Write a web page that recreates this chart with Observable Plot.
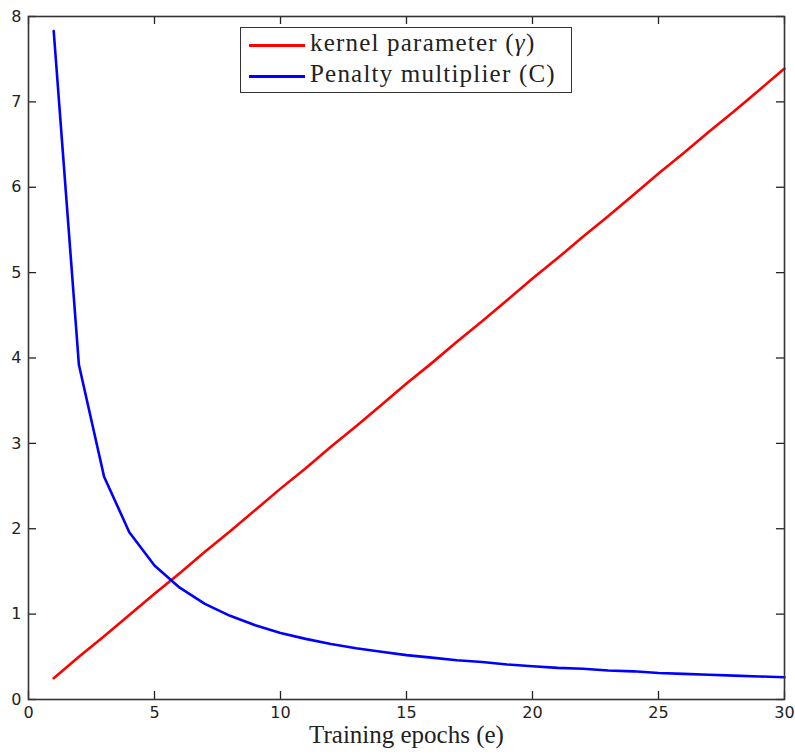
<!DOCTYPE html>
<html>
<head>
<meta charset="utf-8">
<script src="https://cdn.jsdelivr.net/npm/d3@7"></script>
<script src="https://cdn.jsdelivr.net/npm/@observablehq/plot@0.6"></script>
<style>
  body { margin: 0; background: #fff; }
  #wrap { position: relative; width: 795px; height: 756px; }
  #legend {
    position: absolute; left: 240px; top: 27px; width: 332px; height: 66px;
    border: 1.5px solid #333; background: #fff; box-sizing: border-box;
    font-family: "Liberation Serif", "Times New Roman", serif; font-size: 25px;
    letter-spacing: 1.2px; color: #222;
  }
  .row { position: absolute; left: 8px; display: flex; align-items: center; white-space: nowrap; height: 30px; }
  .sw { width: 56px; height: 3px; margin-right: 5px; }
  .row span { position: relative; top: -2px; }
</style>
</head>
<body>
<div id="wrap"></div>
<script>
// Data
const epochs = [1,2,3,4,5,6,7,8,9,10,11,12,13,14,15,16,17,18,19,20,21,22,23,24,25,26,27,28,29,30];
const gammaValues = [0.25,0.50,0.74,0.99,1.24,1.48,1.73,1.97,2.22,2.47,2.71,2.96,3.20,3.45,3.70,3.94,4.19,4.43,4.68,4.93,5.17,5.42,5.66,5.91,6.16,6.40,6.65,6.89,7.14,7.39];
const penaltyValues = [7.83,3.92,2.61,1.96,1.57,1.31,1.12,0.98,0.87,0.78,0.71,0.65,0.60,0.56,0.52,0.49,0.46,0.44,0.41,0.39,0.37,0.36,0.34,0.33,0.31,0.30,0.29,0.28,0.27,0.26];
const seriesNames = ["kernel parameter (\u03B3)", "Penalty multiplier (C)"];
const seriesColors = ["#ff0000", "#0000ff"];
const xTicks = [0,5,10,15,20,25,30];
const yTicks = [0,1,2,3,4,5,6,7,8];
const xLabel = "Training epochs (e)";

const gammaData = epochs.map((e, i) => ({e, v: gammaValues[i]}));
const penaltyData = epochs.map((e, i) => ({e, v: penaltyValues[i]}));

const chart = Plot.plot({
  width: 795,
  height: 756,
  marginLeft: 28,
  marginRight: 11,
  marginTop: 16,
  marginBottom: 57,
  x: {domain: [0, 30]},
  y: {domain: [0, 8]},
  style: {fontFamily: "DejaVu Sans, sans-serif", fontSize: "16px", color: "#222", background: "#fff"},
  marks: [
    Plot.axisX(xTicks, {tickSize: 0, tickPadding: 7, fontSize: 16, label: null, tickFormat: d3.format("d")}),
    Plot.axisY(yTicks, {tickSize: 0, tickPadding: 7, fontSize: 16, label: null, tickFormat: d3.format("d")}),
    // inward ticks on all four sides (MATLAB style)
    Plot.ruleX(xTicks, {x: d => d, y1: 0, y2: 0.094, stroke: "#222", strokeWidth: 1.3}),
    Plot.ruleX(xTicks, {x: d => d, y1: 8, y2: 8 - 0.094, stroke: "#222", strokeWidth: 1.3}),
    Plot.ruleY(yTicks, {y: d => d, x1: 0, x2: 0.32, stroke: "#222", strokeWidth: 1.3}),
    Plot.ruleY(yTicks, {y: d => d, x1: 30, x2: 30 - 0.32, stroke: "#222", strokeWidth: 1.3}),
    Plot.line(gammaData, {x: "e", y: "v", stroke: seriesColors[0], strokeWidth: 2.6}),
    Plot.line(penaltyData, {x: "e", y: "v", stroke: seriesColors[1], strokeWidth: 2.6}),
    Plot.frame({stroke: "#333", strokeWidth: 1.6}),
    Plot.text([xLabel], {frameAnchor: "bottom", dy: 43, fontFamily: "Liberation Serif, Times New Roman, serif", fontSize: 25, fill: "#222"})
  ]
});

const wrap = document.getElementById("wrap");
wrap.appendChild(chart);

const legend = document.createElement("div");
legend.id = "legend";
seriesNames.forEach((name, i) => {
  const row = document.createElement("div");
  row.className = "row";
  row.style.top = (i === 0 ? 2 : 33) + "px";
  const sw = document.createElement("div");
  sw.className = "sw";
  sw.style.background = seriesColors[i];
  const txt = document.createElement("span");
  if (i === 0) {
    txt.innerHTML = "kernel parameter (<i>\u03B3</i>)";
  } else {
    txt.textContent = name;
  }
  row.appendChild(sw);
  row.appendChild(txt);
  legend.appendChild(row);
});
wrap.appendChild(legend);
</script>
</body>
</html>
